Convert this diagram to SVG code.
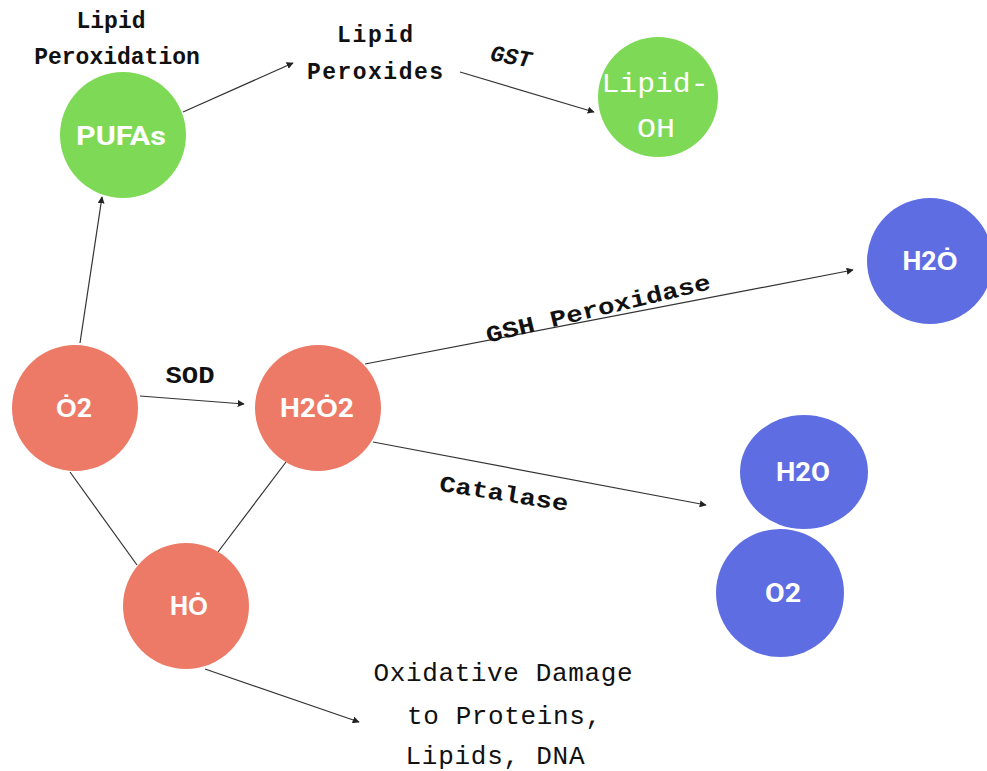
<svg xmlns="http://www.w3.org/2000/svg" width="987" height="771" viewBox="0 0 987 771">
<defs>
<style>
.g{fill:#7ed957}.r{fill:#ec7a66}.b{fill:#5f6de3}
.nt{font-family:Roboto,"Liberation Sans",sans-serif;font-weight:bold;font-size:25px;fill:#fff;text-anchor:middle}
.nm{font-family:"Liberation Mono","DejaVu Sans Mono",monospace;font-size:28px;fill:#fff;text-anchor:middle}
.lb{font-family:"Liberation Mono","DejaVu Sans Mono",monospace;font-weight:bold;font-size:23px;fill:#111;text-anchor:middle}
.lt{font-family:"Liberation Mono","DejaVu Sans Mono",monospace;font-size:26px;fill:#111;text-anchor:middle}
.c line{stroke:#333;stroke-width:1.2;fill:none}
</style>
<marker id="a" viewBox="0 0 10 10" refX="9" refY="5" markerWidth="7" markerHeight="7" orient="auto" markerUnits="userSpaceOnUse">
<path d="M0,0 L10,5 L0,10 z" fill="#222"/>
</marker>
</defs>
<rect width="987" height="771" fill="#fff"/>
<g class="c" id="connectors">
<line x1="80" y1="343" x2="102" y2="197" marker-end="url(#a)"/>
<line x1="183" y1="112" x2="293" y2="63" marker-end="url(#a)"/>
<line x1="460" y1="72" x2="594" y2="112" marker-end="url(#a)"/>
<line x1="140" y1="396" x2="244" y2="404" marker-end="url(#a)"/>
<line x1="365" y1="364" x2="853" y2="270" marker-end="url(#a)"/>
<line x1="373" y1="442" x2="706" y2="505" marker-end="url(#a)"/>
<line x1="70" y1="472" x2="137" y2="565"/>
<line x1="286" y1="462" x2="218" y2="552"/>
<line x1="205" y1="669" x2="359" y2="722" marker-end="url(#a)"/>
</g>
<g id="pufas"><circle class="g" cx="123" cy="135" r="63"/><text class="nt" x="121" y="145" font-size="28" textLength="90" lengthAdjust="spacingAndGlyphs">PUFAs</text></g>
<g id="lipid-oh"><circle class="g" cx="658" cy="97" r="60"/><text class="nm" x="655" y="92" textLength="107" lengthAdjust="spacingAndGlyphs">Lipid-</text><text class="nm" x="656" y="137" textLength="38" lengthAdjust="spacingAndGlyphs">OH</text></g>
<g id="h2o-top"><circle class="b" cx="930" cy="261" r="63"/><text class="nt" x="930" y="270" textLength="55" lengthAdjust="spacingAndGlyphs">H2O&#775;</text></g>
<g id="o2-red"><circle class="r" cx="75" cy="408" r="63"/><text class="nt" x="74" y="417" textLength="36" lengthAdjust="spacingAndGlyphs">O&#775;2</text></g>
<g id="h2o2"><circle class="r" cx="318" cy="408" r="63"/><text class="nt" x="317" y="417" textLength="74" lengthAdjust="spacingAndGlyphs">H2O&#775;2</text></g>
<g id="ho"><circle class="r" cx="186" cy="606" r="63"/><text class="nt" x="189" y="615" textLength="38" lengthAdjust="spacingAndGlyphs">HO&#775;</text></g>
<g id="h2o-blue"><ellipse class="b" cx="804" cy="472" rx="64" ry="57"/><text class="nt" x="803" y="481" textLength="54" lengthAdjust="spacingAndGlyphs">H2O</text></g>
<g id="o2-blue"><circle class="b" cx="780" cy="593" r="64"/><text class="nt" x="783" y="602" textLength="36" lengthAdjust="spacingAndGlyphs">O2</text></g>
<g id="labels">
<text class="lb" x="111" y="28">Lipid</text>
<text class="lb" x="117" y="64">Peroxidation</text>
<text class="lb" x="375" y="42" font-size="24" textLength="76">Lipid</text>
<text class="lb" x="375" y="79" font-size="24" textLength="136">Peroxides</text>
<text class="lb" x="511" y="64" font-size="25" font-style="italic" transform="rotate(10 511 57)">GST</text>
<text class="lb" x="598" y="316" font-size="27" textLength="230" lengthAdjust="spacingAndGlyphs" transform="rotate(-13.5 598 308)">GSH Peroxidase</text>
<text class="lb" x="190" y="383" font-family="Roboto,'Liberation Sans',sans-serif" font-size="25" textLength="49" lengthAdjust="spacingAndGlyphs">SOD</text>
<text class="lb" x="504" y="501" font-size="27" textLength="130" lengthAdjust="spacingAndGlyphs" transform="rotate(9 504 493)">Catalase</text>
<text class="lt" x="503" y="681" textLength="259">Oxidative Damage</text>
<text class="lt" x="504" y="724" textLength="194">to Proteins,</text>
<text class="lt" x="495" y="764" textLength="179">Lipids, DNA</text>
</g>
</svg>
